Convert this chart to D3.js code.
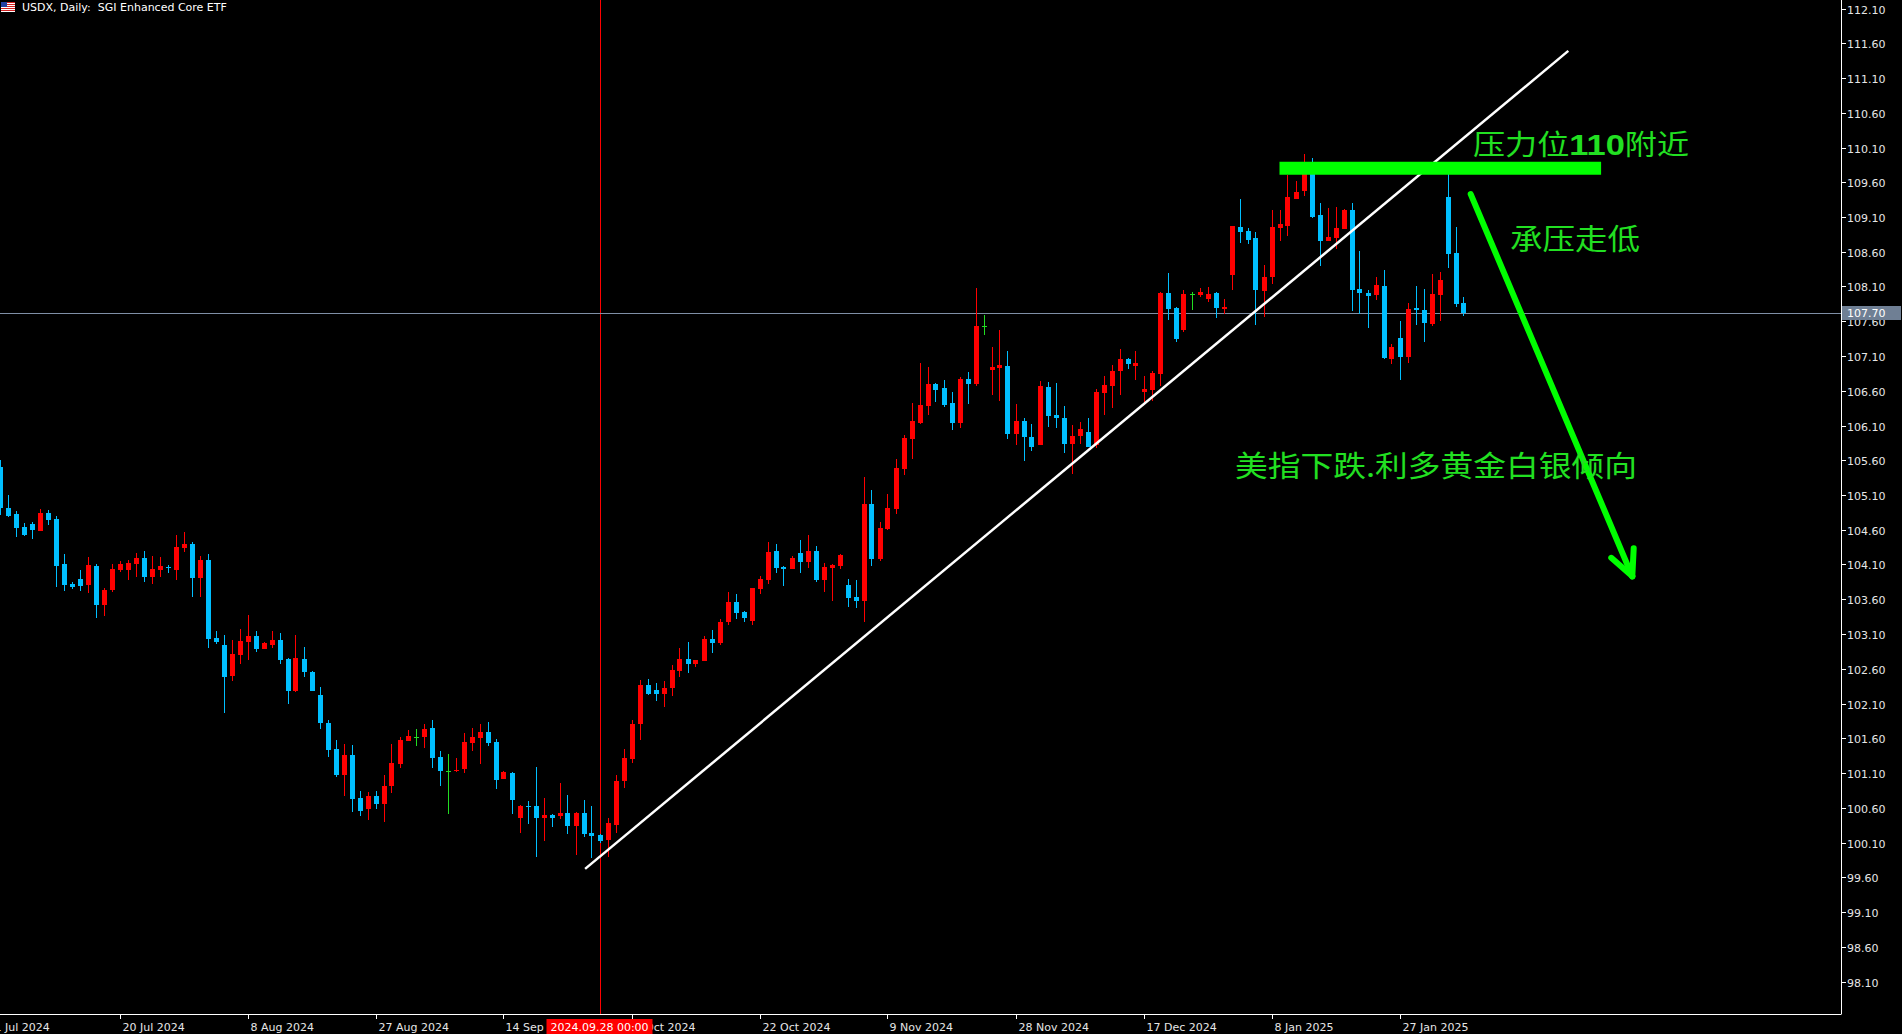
<!DOCTYPE html>
<html>
<head>
<meta charset="utf-8">
<title>USDX Daily</title>
<script src="https://cdn.jsdelivr.net/npm/d3@7"></script>
<style>
  html, body { margin: 0; padding: 0; background: #000; overflow: hidden; }
  svg { display: block; }
  text { font-family: "DejaVu Sans", sans-serif; }
</style>
</head>
<body>
<div id="chart"></div>
<script>
// daily bars, [open, high, low, close], first bar sits at index -1 (cut by the left edge)
var firstBar = -1;
var ohlc = [
  [105.50,105.60,104.81,104.91],
  [104.91,105.10,104.78,104.80],[104.83,104.87,104.50,104.63],[104.64,104.70,104.51,104.52],[104.68,104.71,104.47,104.60],
  [104.58,104.90,104.58,104.84],[104.84,104.88,104.67,104.74],[104.75,104.80,103.78,104.08],[104.11,104.25,103.72,103.80],
  [103.82,103.85,103.75,103.78],[103.89,104.02,103.72,103.79],[103.80,104.21,103.69,104.09],[104.08,104.11,103.33,103.52],
  [103.52,103.76,103.36,103.73],[103.73,104.11,103.70,104.04],[104.02,104.15,103.99,104.11],[104.02,104.17,103.88,104.12],
  [104.11,104.27,103.92,104.19],[104.19,104.29,103.85,103.92],[103.92,104.22,103.82,104.04],[104.02,104.21,103.92,104.08],
  [104.06,104.09,103.98,104.05],[104.02,104.52,103.88,104.35],[104.34,104.57,104.28,104.40],[104.40,104.42,103.63,103.91],
  [103.91,104.22,103.63,104.17],[104.17,104.25,102.90,103.03],[103.04,103.14,102.96,102.98],[102.94,103.09,101.96,102.48],
  [102.50,103.01,102.42,102.81],[102.80,103.17,102.67,103.00],[102.98,103.37,102.73,103.07],[103.07,103.14,102.84,102.88],
  [102.88,102.98,102.88,102.97],[102.94,103.14,102.90,103.01],[103.01,103.11,102.67,102.73],[102.74,102.76,102.09,102.28],
  [102.28,103.09,102.27,102.75],[102.74,102.91,102.48,102.55],[102.55,102.57,102.28,102.28],[102.22,102.34,101.73,101.82],
  [101.82,101.86,101.33,101.43],[101.45,101.57,101.04,101.07],[101.07,101.52,100.77,101.36],[101.36,101.50,100.54,100.72],
  [100.74,100.84,100.48,100.55],[100.58,100.83,100.42,100.77],[100.77,100.84,100.58,100.65],[100.65,101.07,100.40,100.91],
  [100.91,101.52,100.81,101.24],[101.23,101.62,101.17,101.57],[101.56,101.72,101.56,101.63],[101.62,101.73,101.49,101.62],
  [101.62,101.81,101.46,101.73],[101.75,101.86,101.17,101.32],[101.33,101.42,100.91,101.13],[101.13,101.37,100.51,101.13],
  [101.13,101.32,101.11,101.14],[101.16,101.68,101.10,101.55],[101.53,101.75,101.42,101.62],[101.60,101.81,101.23,101.69],
  [101.69,101.83,101.49,101.53],[101.55,101.59,100.87,101.00],[101.01,101.13,101.01,101.11],[101.10,101.12,100.51,100.71],
  [100.45,100.64,100.24,100.62],[100.62,100.70,100.36,100.61],[100.62,101.19,99.89,100.45],[100.45,100.74,100.12,100.50],
  [100.50,100.51,100.32,100.45],[100.48,100.96,100.44,100.52],[100.52,100.78,100.22,100.34],[100.34,100.54,99.92,100.52],
  [100.52,100.71,100.18,100.22],[100.24,100.62,99.87,100.19],[100.21,100.22,100.10,100.12],[100.14,100.45,99.89,100.38],
  [100.35,101.07,100.24,100.98],[100.98,101.45,100.88,101.32],[101.30,101.86,101.24,101.80],[101.80,102.44,101.57,102.37],
  [102.37,102.45,102.22,102.24],[102.30,102.40,102.14,102.24],[102.24,102.42,102.05,102.32],[102.32,102.65,102.21,102.58],
  [102.57,102.90,102.48,102.74],[102.74,102.98,102.54,102.67],[102.67,102.73,102.62,102.73],[102.71,103.07,102.71,103.03],
  [103.03,103.16,102.83,102.97],[102.97,103.32,102.94,103.27],[103.27,103.70,103.23,103.56],[103.56,103.68,103.32,103.40],
  [103.42,103.43,103.27,103.33],[103.29,103.76,103.23,103.76],[103.75,103.93,103.68,103.89],[103.88,104.42,103.82,104.28],
  [104.29,104.40,103.98,104.05],[104.06,104.08,103.79,104.04],[104.04,104.22,104.04,104.19],[104.27,104.45,103.98,104.14],
  [104.14,104.52,104.05,104.29],[104.29,104.37,103.85,103.88],[103.88,104.12,103.70,104.06],[104.05,104.11,103.58,104.09],
  [104.08,104.25,104.04,104.24],[103.80,103.89,103.49,103.62],[103.63,103.88,103.48,103.57],[103.57,105.36,103.27,104.97],
  [104.97,105.17,104.08,104.18],[104.18,104.71,104.15,104.63],[104.61,105.11,104.60,104.91],[104.90,105.62,104.83,105.49],
  [105.47,105.96,105.39,105.92],[105.91,106.42,105.62,106.17],[106.14,107.00,106.12,106.40],[106.38,106.94,106.25,106.70],
  [106.70,106.71,106.44,106.61],[106.64,106.75,106.37,106.40],[106.42,106.58,106.04,106.14],[106.14,106.80,106.06,106.77],
  [106.77,106.87,106.41,106.70],[106.70,108.08,106.67,107.53],[107.53,107.69,107.40,107.53],[106.90,107.23,106.54,106.94],
  [106.93,107.47,106.45,106.97],[106.96,107.17,105.91,105.98],[105.98,106.41,105.82,106.17],[106.17,106.21,105.59,105.94],
  [105.94,106.12,105.73,105.79],[105.82,106.74,105.82,106.67],[106.65,106.73,106.08,106.24],[106.25,106.71,106.06,106.21],
  [106.21,106.38,105.70,105.84],[105.84,106.11,105.40,105.95],[105.95,106.15,105.84,106.05],[106.00,106.21,105.79,105.79],
  [105.82,106.63,105.78,106.58],[106.57,106.81,106.25,106.68],[106.67,106.97,106.35,106.88],[106.88,107.20,106.54,107.06],
  [107.06,107.07,106.91,106.99],[106.96,107.17,106.76,107.00],[106.58,106.81,106.44,106.63],[106.61,106.88,106.45,106.86],
  [106.84,108.02,106.67,108.01],[108.01,108.29,107.62,107.78],[107.79,107.80,107.30,107.34],[107.47,108.05,107.44,107.99],
  [107.99,108.02,107.76,107.99],[107.98,108.08,107.95,108.02],[107.92,108.09,107.88,107.99],[108.01,108.02,107.65,107.79],
  [107.78,107.92,107.70,107.80],[108.26,108.97,108.05,108.97],[108.96,109.36,108.73,108.88],[108.90,108.94,108.71,108.77],
  [108.80,108.88,107.55,108.05],[108.03,108.41,107.66,108.24],[108.24,109.20,108.14,108.96],[108.94,109.20,108.75,109.00],
  [108.97,109.70,108.82,109.39],[109.36,109.62,109.36,109.46],[109.47,110.01,109.40,109.77],[109.77,109.95,109.09,109.10],
  [109.13,109.30,108.39,108.75],[108.75,109.23,108.75,108.81],[108.80,109.24,108.64,108.94],[108.93,109.22,108.93,109.20],
  [109.20,109.30,107.75,108.05],[108.06,108.61,107.70,108.01],[108.01,108.05,107.51,107.96],[107.98,108.24,107.91,108.12],
  [108.11,108.34,107.05,107.07],[107.06,107.27,106.99,107.23],[107.36,107.60,106.76,107.09],[107.09,107.86,107.00,107.78],
  [107.79,108.11,107.55,107.76],[107.76,108.06,107.30,107.57],[107.56,108.28,107.53,107.99],[107.98,108.31,107.60,108.19],
  [109.39,109.75,108.37,108.57],[108.58,108.96,107.80,107.85],[107.86,107.95,107.67,107.72]
];

var priceTicks = d3.range(0, 29).map(function(k) { return +(98.10 + k * 0.5).toFixed(2); });
var dateTickBars = [-2, 14, 30, 46, 62, 78, 94, 110, 126, 142, 158, 174];
var dateTickLabels = ["1 Jul 2024", "20 Jul 2024", "8 Aug 2024", "27 Aug 2024", "14 Sep 2024", "3 Oct 2024",
                      "22 Oct 2024", "9 Nov 2024", "28 Nov 2024", "17 Dec 2024", "8 Jan 2025", "27 Jan 2025"];
var bidPrice = 107.72, bidLabel = "107.70";
var crossBar = 74, crossLabel = "2024.09.28 00:00";
var trendStart = [72.2, 99.72], trendEnd = [195.1, 111.49];
var resistBar = [159, 199.2], resistPrice = 109.80;
var arrowStart = [182.9, 109.43], arrowEnd = [203.1, 103.93];

var W = 1902, H = 1034, plotR = 1841, plotB = 1014;
var x = d3.scaleLinear().domain([-1, 229]).range([-0.5, 1839.5]);
var y = d3.scaleLinear().domain([112.10, 98.10]).range([8.5, 981.5]);

var svg = d3.select("#chart").append("svg").attr("width", W).attr("height", H);
svg.append("rect").attr("width", W).attr("height", H).attr("fill", "#000");
svg.append("clipPath").attr("id", "plot").append("rect").attr("width", plotR).attr("height", plotB);
var plot = svg.append("g").attr("clip-path", "url(#plot)");

// crosshair
plot.append("line").attr("x1", Math.round(x(crossBar)) + 0.5).attr("x2", Math.round(x(crossBar)) + 0.5)
  .attr("y1", 0).attr("y2", plotB).attr("stroke", "#ff0000").attr("stroke-width", 1);

// bid line
plot.append("line").attr("x1", 0).attr("x2", plotR).attr("y1", Math.round(y(bidPrice)) + 0.5).attr("y2", Math.round(y(bidPrice)) + 0.5)
  .attr("stroke", "#7f8fa6").attr("stroke-width", 1);

// candles
var bars = ohlc.map(function(d, k) { return { i: firstBar + k, o: d[0], h: d[1], l: d[2], c: d[3] }; });
function colorOf(d) {
  if (Math.abs(d.c - d.o) < 0.005) return "#22dd22";
  return d.c > d.o ? "#ff0000" : "#00bfff";
}
var g = plot.append("g").attr("shape-rendering", "crispEdges");
g.selectAll("line.wick").data(bars).enter().append("line")
  .attr("x1", function(d) { return Math.round(x(d.i)) + 0.5; })
  .attr("x2", function(d) { return Math.round(x(d.i)) + 0.5; })
  .attr("y1", function(d) { return y(d.h); })
  .attr("y2", function(d) { return y(d.l); })
  .attr("stroke", colorOf);
g.selectAll("rect.body").data(bars).enter().append("rect")
  .attr("x", function(d) { return Math.round(x(d.i)) - 2; })
  .attr("width", 5)
  .attr("y", function(d) { return y(Math.max(d.o, d.c)); })
  .attr("height", function(d) { return Math.max(1, y(Math.min(d.o, d.c)) - y(Math.max(d.o, d.c))); })
  .attr("fill", colorOf);

// trend line
plot.append("line").attr("x1", x(trendStart[0])).attr("y1", y(trendStart[1]))
  .attr("x2", x(trendEnd[0])).attr("y2", y(trendEnd[1]))
  .attr("stroke", "#ffffff").attr("stroke-width", 2.5);

// resistance bar
plot.append("line").attr("x1", x(resistBar[0])).attr("x2", x(resistBar[1]))
  .attr("y1", y(resistPrice)).attr("y2", y(resistPrice))
  .attr("stroke", "#00ff00").attr("stroke-width", 13);

// arrow
var ax0 = x(arrowStart[0]), ay0 = y(arrowStart[1]), ax1 = x(arrowEnd[0]), ay1 = y(arrowEnd[1]);
var ang = Math.atan2(ay1 - ay0, ax1 - ax0);
plot.append("line").attr("x1", ax0).attr("y1", ay0).attr("x2", ax1).attr("y2", ay1)
  .attr("stroke", "#00ff00").attr("stroke-width", 6).attr("stroke-linecap", "round");
[-0.45, 0.45].forEach(function(da) {
  plot.append("line").attr("x1", ax1).attr("y1", ay1)
    .attr("x2", ax1 - 28 * Math.cos(ang + da)).attr("y2", ay1 - 28 * Math.sin(ang + da))
    .attr("stroke", "#00ff00").attr("stroke-width", 6).attr("stroke-linecap", "round");
});

// annotations
var cjk = "'Noto Sans CJK SC', sans-serif";
var t1 = plot.append("text").attr("x", 1473).attr("y", 155).attr("fill", "#22e022")
  .attr("font-size", 28).style("font-family", cjk).attr("textLength", 216).attr("lengthAdjust", "spacingAndGlyphs");
t1.append("tspan").text("压力位");
t1.append("tspan").attr("font-weight", "bold").style("font-family", "'Liberation Sans', Arial").attr("font-size", 30).text("110");
t1.append("tspan").text("附近");
plot.append("text").attr("x", 1510).attr("y", 250).attr("fill", "#22e022").attr("font-size", 29)
  .style("font-family", cjk).attr("textLength", 130).attr("lengthAdjust", "spacingAndGlyphs").text("承压走低");
plot.append("text").attr("x", 1235).attr("y", 477).attr("fill", "#22e022").attr("font-size", 29)
  .style("font-family", cjk).attr("textLength", 402).attr("lengthAdjust", "spacingAndGlyphs").text("美指下跌.利多黄金白银倾向");

// axes frame
svg.append("line").attr("x1", plotR + 0.5).attr("x2", plotR + 0.5).attr("y1", 0).attr("y2", plotB).attr("stroke", "#fff");
svg.append("line").attr("x1", 0).attr("x2", plotR + 0.5).attr("y1", plotB + 0.5).attr("y2", plotB + 0.5).attr("stroke", "#fff");

// price axis
var pa = svg.append("g");
priceTicks.forEach(function(p) {
  var yy = Math.round(y(p)) + 0.5;
  pa.append("line").attr("x1", plotR).attr("x2", plotR + 5).attr("y1", yy).attr("y2", yy).attr("stroke", "#fff");
  pa.append("text").attr("x", plotR + 6).attr("y", yy + 4).attr("fill", "#e6e6e6").attr("font-size", 11).text(p.toFixed(2));
});
var by = Math.round(y(bidPrice));
pa.append("rect").attr("x", plotR + 1).attr("y", by - 7).attr("width", 59).attr("height", 14).attr("fill", "#6f7f94");
pa.append("text").attr("x", plotR + 6).attr("y", by + 4).attr("fill", "#fff").attr("font-size", 11).text(bidLabel);

// date axis
var da = svg.append("g");
dateTickBars.forEach(function(b, k) {
  var xx = Math.round(x(b)) + 0.5;
  da.append("line").attr("x1", xx).attr("x2", xx).attr("y1", plotB).attr("y2", plotB + 5).attr("stroke", "#fff");
  da.append("text").attr("x", xx + 2).attr("y", plotB + 17).attr("fill", "#e6e6e6").attr("font-size", 11).text(dateTickLabels[k]);
});
var cx = x(crossBar);
da.append("rect").attr("x", cx - 53).attr("y", plotB + 5).attr("width", 106).attr("height", 15).attr("fill", "#ff0000");
da.append("text").attr("x", cx).attr("y", plotB + 17).attr("text-anchor", "middle").attr("fill", "#fff").attr("font-size", 11).text(crossLabel);

// header
var hd = svg.append("g");
hd.append("rect").attr("x", 1).attr("y", 2).attr("width", 14).attr("height", 10).attr("fill", "#ffffff");
[0, 2, 4, 6, 8].forEach(function(r) {
  hd.append("rect").attr("x", 1).attr("y", 2 + r).attr("width", 14).attr("height", 1).attr("fill", "#d02020");
});
hd.append("rect").attr("x", 1).attr("y", 2).attr("width", 6).attr("height", 5).attr("fill", "#2040a0");
hd.append("text").attr("x", 22).attr("y", 11).attr("fill", "#fff").attr("font-size", 11)
  .attr("xml:space", "preserve").text("USDX, Daily:  SGI Enhanced Core ETF");
</script>
</body>
</html>
